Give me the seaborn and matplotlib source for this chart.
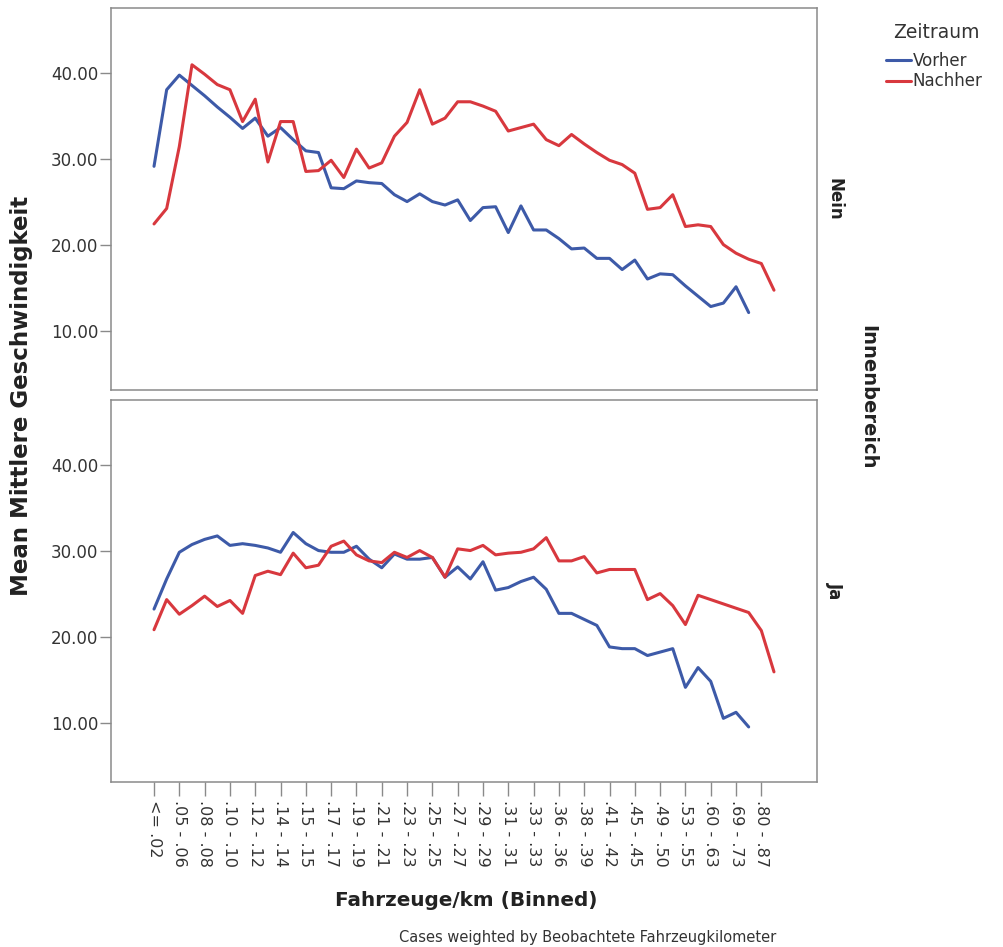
import numpy as np
import pandas as pd
import seaborn as sns
import matplotlib.pyplot as plt

# bins (50 categories, SPSS labels only every second one)
n_bins = 50
tick_labels = ['<= .02', '.05 - .06', '.08 - .08', '.10 - .10', '.12 - .12', '.14 - .14',
               '.15 - .15', '.17 - .17', '.19 - .19', '.21 - .21', '.23 - .23', '.25 - .25',
               '.27 - .27', '.29 - .29', '.31 - .31', '.33 - .33', '.36 - .36', '.38 - .39',
               '.41 - .42', '.45 - .45', '.49 - .50', '.53 - .55', '.60 - .63', '.69 - .73',
               '.80 - .87']

# Innenbereich = Nein
nein_vorher = [29.1, 38.0, 39.7, 38.5, 37.3, 36.0, 34.8, 33.5, 34.7, 32.6,
               33.6, 32.2, 30.9, 30.7, 26.6, 26.5, 27.4, 27.2, 27.1, 25.8,
               25.0, 25.9, 25.0, 24.6, 25.2, 22.8, 24.3, 24.4, 21.4, 24.5,
               21.7, 21.7, 20.7, 19.5, 19.6, 18.4, 18.4, 17.1, 18.2, 16.0,
               16.6, 16.5, 15.2, 14.0, 12.8, 13.2, 15.1, 12.1, np.nan, np.nan]
nein_nachher = [22.4, 24.2, 31.4, 40.9, 39.8, 38.6, 38.0, 34.3, 36.9, 29.6,
                34.3, 34.3, 28.5, 28.6, 29.8, 27.8, 31.1, 28.9, 29.5, 32.6,
                34.2, 38.0, 34.0, 34.7, 36.6, 36.6, 36.1, 35.5, 33.2, 33.6,
                34.0, 32.2, 31.5, 32.8, 31.7, 30.7, 29.8, 29.3, 28.3, 24.1,
                24.3, 25.8, 22.1, 22.3, 22.1, 20.0, 19.0, 18.3, 17.8, 14.7]

# Innenbereich = Ja
ja_vorher = [23.2, 26.7, 29.8, 30.7, 31.3, 31.7, 30.6, 30.8, 30.6, 30.3,
             29.8, 32.1, 30.8, 30.0, 29.8, 29.8, 30.5, 29.0, 28.0, 29.6,
             29.0, 29.0, 29.2, 26.9, 28.1, 26.7, 28.7, 25.4, 25.7, 26.4,
             26.9, 25.5, 22.7, 22.7, 22.0, 21.3, 18.8, 18.6, 18.6, 17.8,
             18.2, 18.6, 14.1, 16.4, 14.8, 10.5, 11.2, 9.5, np.nan, np.nan]
ja_nachher = [20.8, 24.3, 22.6, 23.6, 24.7, 23.5, 24.2, 22.7, 27.1, 27.6,
              27.2, 29.7, 28.0, 28.3, 30.5, 31.1, 29.5, 28.8, 28.6, 29.8,
              29.2, 30.0, 29.2, 26.9, 30.2, 30.0, 30.6, 29.5, 29.7, 29.8,
              30.2, 31.5, 28.8, 28.8, 29.3, 27.4, 27.8, 27.8, 27.8, 24.3,
              25.0, 23.6, 21.4, 24.8, 24.3, 23.8, 23.3, 22.8, 20.7, 15.9]

rows = []
for bereich, series in [('Nein', {'Vorher': nein_vorher, 'Nachher': nein_nachher}),
                        ('Ja', {'Vorher': ja_vorher, 'Nachher': ja_nachher})]:
    for zeit, vals in series.items():
        for i, v in enumerate(vals):
            rows.append({'bin': i, 'speed': v, 'Zeitraum': zeit, 'Innenbereich': bereich})
df = pd.DataFrame(rows).dropna()

sns.set_style('white')
plt.rcParams['font.family'] = ['DejaVu Sans']

palette = {'Vorher': '#3d5aa8', 'Nachher': '#d8383e'}
frame_col = '#8a8a8a'

fig = plt.figure(figsize=(10.04, 9.47), dpi=100)
W, H = 1004, 947
left, right = 111, 817
panels = {'Nein': (8, 390), 'Ja': (400, 782)}

axes = {}
for bereich, (top, bottom) in panels.items():
    ax = fig.add_axes([left / W, 1 - bottom / H, (right - left) / W, (bottom - top) / H])
    sns.lineplot(data=df[df['Innenbereich'] == bereich], x='bin', y='speed',
                 hue='Zeitraum', hue_order=['Vorher', 'Nachher'], palette=palette,
                 linewidth=2.2, ax=ax, legend=(bereich == 'Nein'))
    ax.set_xlim(-3.4, 52.4)
    ax.set_ylim(3.1, 47.5)
    ax.set_yticks([10, 20, 30, 40])
    ax.set_yticklabels(['10.00', '20.00', '30.00', '40.00'])
    ax.tick_params(axis='y', direction='out', length=8, width=1, color=frame_col,
                   labelsize=12, labelcolor='#333333', left=True, pad=1)
    for s in ax.spines.values():
        s.set_color(frame_col)
        s.set_linewidth(1.1)
    ax.set_xlabel('')
    ax.set_ylabel('')
    ax.text(1.012, 0.5, bereich, transform=ax.transAxes, rotation=270,
            ha='left', va='center', fontsize=12, fontweight='bold', color='#222222')
    axes[bereich] = ax

ax_top, ax_bot = axes['Nein'], axes['Ja']
ax_top.set_xticks([])
ax_bot.set_xticks(range(0, n_bins, 2))
ax_bot.set_xticklabels(tick_labels, rotation=270, fontsize=11.5, color='#333333')
ax_bot.tick_params(axis='x', direction='out', length=10, width=1, color=frame_col,
                   bottom=True, pad=3)

handles, labels = ax_top.get_legend_handles_labels()
ax_top.get_legend().remove()
fig.text(893 / W, 1 - 32 / H, 'Zeitraum', ha='left', va='center',
         fontsize=13.5, color='#333333')
leg = fig.legend(handles, labels, loc='upper left',
                 bbox_to_anchor=(886 / W, 1 - 52 / H), frameon=False,
                 fontsize=12, handlelength=1.5, handletextpad=0.1,
                 labelspacing=0.15, borderaxespad=0, borderpad=0)
for t in leg.get_texts():
    t.set_color('#333333')

fig.text(22 / W, 1 - 396 / H, 'Mean Mittlere Geschwindigkeit', rotation=90,
         ha='center', va='center', fontsize=16.5, fontweight='bold', color='#222222')
fig.text(466 / W, 1 - 900 / H, 'Fahrzeuge/km (Binned)', ha='center', va='center',
         fontsize=14.4, fontweight='bold', color='#222222')
fig.text(868 / W, 1 - 397 / H, 'Innenbereich', rotation=270, ha='center', va='center',
         fontsize=14, fontweight='bold', color='#222222')
fig.text(588 / W, 1 - 937 / H, 'Cases weighted by Beobachtete Fahrzeugkilometer',
         ha='center', va='center', fontsize=10.5, color='#333333')

fig.savefig('out.png', dpi=100)
